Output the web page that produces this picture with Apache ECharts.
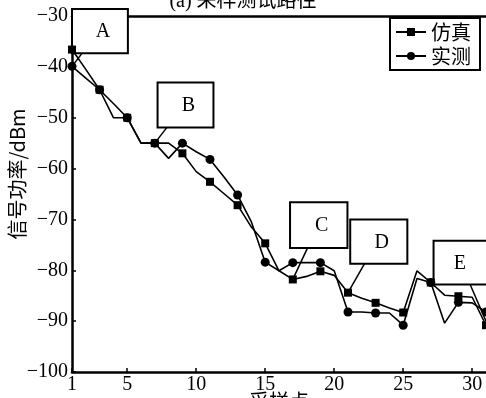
<!DOCTYPE html>
<html><head><meta charset="utf-8">
<script src="https://cdn.jsdelivr.net/npm/echarts@6/dist/echarts.min.js"></script>
<style>html,body{margin:0;padding:0;background:#fff}#c{width:486px;height:398px}</style>
</head><body><div id="c"></div>
<script>
// ---- data ----
const titleText = '(a) 采样测试路径';
const xName = '采样点';
const yName = '信号功率/dBm';
const seriesNames = ['仿真', '实测'];
const samplePoints = [1,2,3,4,5,6,7,8,9,10,11,12,13,14,15,16,17,18,19,20,21,22,23,24,25,26,27,28,29,30,31];
const simulated = [-36.6,-40.5,-44.5,-50,-50,-55,-55,-55,-57,-60.6,-62.6,-64.9,-67.2,-71.5,-74.7,-80.1,-81.8,-81.2,-80.2,-81,-84.4,-85.5,-86.4,-87.4,-88.3,-80.1,-82.4,-84.9,-85.1,-85.3,-90.8];
const measured  = [-39.9,-42.2,-44.5,-47.2,-50,-55,-55,-58,-55,-56.7,-58.2,-61.6,-65.2,-70.5,-78.4,-80.1,-78.5,-78.5,-78.5,-80.1,-88.2,-88.2,-88.4,-88.4,-90.8,-81.6,-82.4,-90.4,-86.3,-86.4,-88.2];
const xTickValues = [1,5,10,15,20,25,30];
const yMin = -100, yMax = -30, yStep = 10;
// annotation callouts (in data space)
const calloutLabels = ['A','B','C','D','E'];
const calloutBoxes = [[1.0,5.05,-28.6,-37.3],[7.2,11.25,-43.1,-51.9],[16.8,20.96,-66.6,-75.6],[21.16,25.3,-70,-78.7],[27.2,31.8,-74.2,-82.8]];
const calloutFrom = [[1.74,-37.3],[7.88,-51.9],[18.07,-75.6],[22.2,-78.7],[29.85,-82.8]];
const calloutTo = [[1,-39.9],[7,-55],[17,-81.8],[21,-84.4],[31,-90]];

// ---- chart ----
const serif = '"Liberation Serif","Times New Roman","Noto Sans CJK SC",serif';
const cjk = '"Noto Sans CJK SC",sans-serif';
const minus = v => String(v).replace('-', '\u2212');
const chart = echarts.init(document.getElementById('c'), null, {renderer: 'canvas'});
const mk = arr => samplePoints.map((x, i) => [x, arr[i]]);
const symSize = s => (val, p) => (p.dataIndex % 2 === 0 ? s : 0);

const option = {
  animation: false,
  backgroundColor: '#fff',
  title: {text: titleText, left: 'center', top: -13, textStyle: {fontFamily: serif, fontSize: 20, fontWeight: 'normal', color: '#000'}},
  grid: {left: 72, right: 0, top: 16, bottom: 26, containLabel: false, outerBoundsMode: 'none'},
  legend: {
    orient: 'vertical', left: 390, top: 18, itemGap: 2, itemWidth: 30, itemHeight: 10,
    padding: [3, 9, 3, 5], borderColor: '#000', borderWidth: 2, backgroundColor: '#fff',
    textStyle: {fontFamily: cjk, fontSize: 20, color: '#000', lineHeight: 22},
    data: seriesNames
  },
  xAxis: [{
    type: 'value', min: 1, max: 31, position: 'bottom',
    name: xName, nameLocation: 'middle', nameGap: 19, nameMoveOverlap: false,
    nameTextStyle: {fontFamily: cjk, fontSize: 20, color: '#000'},
    axisLine: {show: true, lineStyle: {color: '#000', width: 2.5}},
    axisTick: {show: true, inside: true, length: 4, lineStyle: {color: '#000', width: 1.5}, customValues: xTickValues},
    axisLabel: {fontFamily: serif, fontSize: 20, color: '#000', margin: 3, customValues: xTickValues},
    splitLine: {show: false}
  }, {
    type: 'value', min: 1, max: 31, position: 'top',
    axisLine: {show: true, onZero: false, lineStyle: {color: '#000', width: 2.5}},
    axisTick: {show: false}, axisLabel: {show: false}, splitLine: {show: false}
  }],
  yAxis: {
    type: 'value', min: yMin, max: yMax, interval: yStep,
    name: yName, nameLocation: 'middle', nameGap: 45, nameMoveOverlap: false,
    nameTextStyle: {fontFamily: cjk, fontSize: 20, color: '#000', padding: [0, 0, 0, 40]},
    axisLine: {show: true, onZero: false, lineStyle: {color: '#000', width: 2.5}},
    axisTick: {show: true, inside: true, length: 4, lineStyle: {color: '#000', width: 1.5}},
    axisLabel: {fontFamily: serif, fontSize: 20, color: '#000', margin: 4, formatter: minus},
    splitLine: {show: false}
  },
  series: [{
    name: seriesNames[0], type: 'line', data: mk(simulated), xAxisIndex: 0,
    symbol: 'rect', symbolSize: symSize(8), showAllSymbol: true,
    lineStyle: {color: '#000', width: 1.6}, itemStyle: {color: '#000'}, z: 3
  }, {
    name: seriesNames[1], type: 'line', data: mk(measured), xAxisIndex: 0,
    symbol: 'circle', symbolSize: symSize(9), showAllSymbol: true,
    lineStyle: {color: '#000', width: 1.6}, itemStyle: {color: '#000'}, z: 4
  }]
};
chart.setOption(option);

const px = p => chart.convertToPixel({seriesIndex: 0}, p);
const graphics = [];
calloutLabels.forEach((lab, i) => {
  const b = calloutBoxes[i];
  const tl = px([b[0], b[2]]), br = px([b[1], b[3]]);
  const f = px(calloutFrom[i]), t = px(calloutTo[i]);
  graphics.push({type: 'line', z: 1, shape: {x1: f[0], y1: f[1], x2: t[0], y2: t[1]}, style: {stroke: '#000', lineWidth: 1.5}});
  graphics.push({type: 'rect', z: 1, shape: {x: tl[0], y: tl[1], width: br[0] - tl[0], height: br[1] - tl[1]}, style: {fill: '#fff', stroke: '#000', lineWidth: 2}});
  const right = Math.min(br[0], 492);
  graphics.push({type: 'text', z: 1, x: (i === 4 ? (tl[0] + right) / 2 - 3 : (tl[0] + br[0]) / 2 + 3), y: (tl[1] + br[1]) / 2 + 1,
    style: {text: lab, fontFamily: serif, fontSize: 20, fill: '#000', align: 'center', verticalAlign: 'middle'}});
});
chart.setOption({graphic: graphics});
</script></body></html>
